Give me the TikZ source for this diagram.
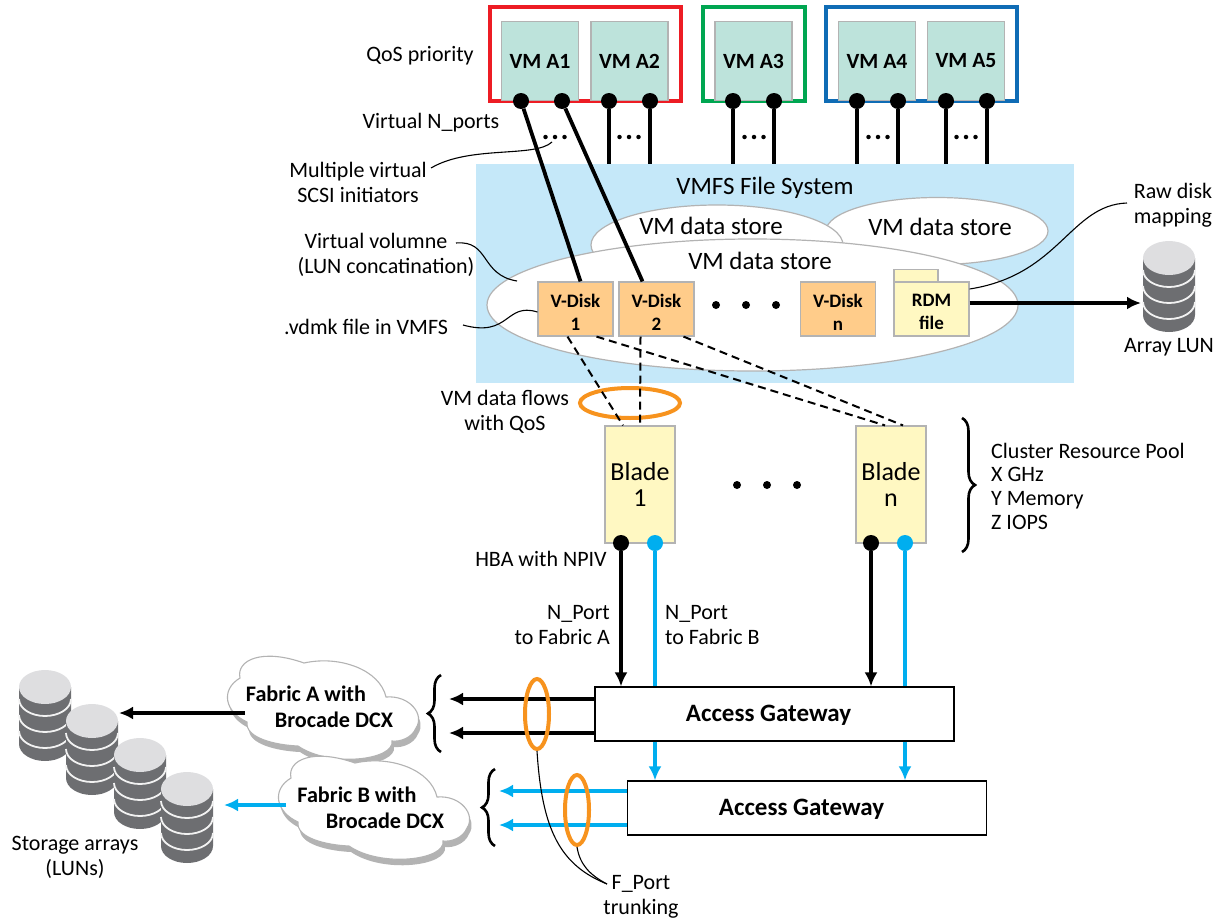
\documentclass[tikz,border=0pt]{standalone}
\usepackage{fontspec}
\setmainfont{Carlito}
\usetikzlibrary{arrows.meta,shapes.geometric,decorations.pathreplacing}
\definecolor{panelblue}{HTML}{C5E8F9}
\definecolor{vmgreen}{HTML}{BDE3DB}
\definecolor{diskorange}{HTML}{FFCC8A}
\definecolor{paleyellow}{HTML}{FFF8C2}
\definecolor{fcblue}{HTML}{00AEEF}
\definecolor{trunkorange}{HTML}{F7931E}
\definecolor{edgegray}{HTML}{B3B3B3}
\definecolor{diskdark}{HTML}{6D6E71}
\definecolor{disklight}{HTML}{DEDEE0}
\definecolor{framered}{HTML}{ED1C24}
\definecolor{framegreen}{HTML}{00A651}
\definecolor{frameblue}{HTML}{0F6CB5}
\newcommand{\vdiskstrut}{\rule{0pt}{19pt}}
\newcommand{\cloudpath}{(240,678) .. controls (236,660) and (262,648) .. (304,663)
  .. controls (340,655) and (380,670) .. (386,697)
  .. controls (410,695) and (425,715) .. (416,728)
  .. controls (412,738) and (400,742) .. (392,741)
  .. controls (395,760) and (330,768) .. (298,746)
  .. controls (275,745) and (245,738) .. (247,722)
  .. controls (225,712) and (220,690) .. (240,678) -- cycle}
\tikzset{diskstack/.pic={
    \fill[diskdark] (-26,0) -- (-26,57) arc[start angle=180, end angle=360, x radius=26pt, y radius=17pt] -- (26,0) -- cycle;
    \draw[white!90!gray, line width=1.8] (-26,12) arc[start angle=180, end angle=360, x radius=26pt, y radius=17pt];
    \draw[white!90!gray, line width=1.8] (-26,28) arc[start angle=180, end angle=360, x radius=26pt, y radius=17pt];
    \draw[white!90!gray, line width=1.8] (-26,44) arc[start angle=180, end angle=360, x radius=26pt, y radius=17pt];
    \fill[disklight] (0,0) ellipse[x radius=26pt, y radius=17pt];
  }}
\begin{document}
\begin{tikzpicture}[x=1pt, y=-1pt, >={Latex[length=14pt,width=13pt]},
    every node/.style = {font=\fontsize{22}{25}\selectfont, align=center, inner sep=0},
    frame/.style = {rectangle, draw, line width=4, minimum width=191, minimum height=94},
    vm/.style = {rectangle, draw=edgegray, line width=1.2, fill=vmgreen, minimum width=77, minimum height=79, font=\fontsize{21.7}{25}\selectfont\bfseries},
    vdisk/.style = {rectangle, draw=edgegray, line width=1.2, fill=diskorange, minimum width=75, minimum height=54, font=\fontsize{19}{23}\selectfont\bfseries},
    blade/.style = {rectangle, draw=edgegray, line width=1.2, fill=paleyellow, minimum width=70, minimum height=117, font=\fontsize{26}{26}\selectfont},
    gateway/.style = {rectangle, draw, line width=1.2, fill=white, minimum width=359, minimum height=54},
    gatetext/.style = {font=\fontsize{25}{25}\selectfont\bfseries},
    store/.style = {ellipse, draw=edgegray, line width=1.2, fill=white},
    storetext/.style = {font=\fontsize{25}{25}\selectfont},
    port/.style = {circle, fill=black, minimum size=16},
    fcport/.style = {circle, fill=fcblue, minimum size=16},
    smalldot/.style = {circle, fill=black, minimum size=4.5},
    bigdot/.style = {circle, fill=black, minimum size=8},
    trunk/.style = {ellipse, draw=trunkorange, line width=4},
    link/.style = {line width=3.8},
    leader/.style = {line width=1.1},
    flow/.style = {line width=2, dashed, dash pattern=on 8pt off 5pt},
    fabric/.style = {font=\fontsize{22.2}{25}\selectfont\bfseries},
    cuddle/.style = {line width=2.6, decorate, decoration={brace, amplitude=13pt}}]
    \useasboundingbox (0,0) rectangle (1220,921);

    \node[frame, draw=framered]   (redframe)   at (585.5,54) {};
    \node[frame, draw=framegreen, minimum width=102] (greenframe) at (754,54) {};
    \node[frame, draw=frameblue]  (blueframe)  at (921.5,54) {};

    \node[rectangle, fill=panelblue, minimum width=598, minimum height=219] (panel) at (775,273.5) {};
    \node[store, minimum width=222, minimum height=67]  (storeC) at (937,231) {};
    \node[store, minimum width=252, minimum height=80]  (storeB) at (717,245) {};
    \node[store, minimum width=531, minimum height=132] (storeA) at (752.5,305) {};

    \node[storetext] (fstitle) at (765,188) {VMFS File System};
    \node[storetext] (titleB)  at (711,226) {VM data store};
    \node[storetext] (titleC)  at (940,227) {VM data store};
    \node[storetext] (titleA)  at (760,261) {VM data store};

    \node[vm] (vma1) at (540,61)   {VM A1};
    \node[vm] (vma2) at (629.5,61) {VM A2};
    \node[vm] (vma3) at (753.5,61) {VM A3};
    \node[vm] (vma4) at (877,61)   {VM A4};
    \node[vm] (vma5) at (966,61)   {VM A5};

    \node[vdisk] (vd1) at (575.5,309) {\vdiskstrut V-Disk\\1};
    \node[vdisk] (vd2) at (656.5,309) {\vdiskstrut V-Disk\\2};
    \node[vdisk] (vdn) at (838,309)   {\vdiskstrut V-Disk\\n};

    \node[rectangle, draw=edgegray, line width=1.2, fill=paleyellow, minimum width=44, minimum height=13] (rdmtab) at (916,276) {};
    \node[vdisk, fill=paleyellow] (rdm) at (931.5,309) {\vdiskstrut RDM\\file};

    \node[port] (pa1) at (521,101) {};
    \node[port] (pa2) at (562,101) {};
    \node[port] (pa3) at (609,101) {};
    \node[port] (pa4) at (650,101) {};
    \node[port] (pa5) at (733,101) {};
    \node[port] (pa6) at (774,101) {};
    \node[port] (pa7) at (857,101) {};
    \node[port] (pa8) at (898,101) {};
    \node[port] (pa9) at (946,101) {};
    \node[port] (pa10) at (987,101) {};

    \draw[link] (pa1) -- ([xshift=5pt]vd1.north);
    \draw[link] (pa2) -- ([xshift=-14pt]vd2.north);
    \draw[link] (pa3) -- (pa3 |- panel.north);
    \draw[link] (pa4) -- (pa4 |- panel.north);
    \draw[link] (pa5) -- (pa5 |- panel.north);
    \draw[link] (pa6) -- (pa6 |- panel.north);
    \draw[link] (pa7) -- (pa7 |- panel.north);
    \draw[link] (pa8) -- (pa8 |- panel.north);
    \draw[link] (pa9) -- (pa9 |- panel.north);
    \draw[link] (pa10) -- (pa10 |- panel.north);

    \foreach \cx in {555,629,754,878,966} {
      \node[smalldot] at (\cx-9.5,137) {};
      \node[smalldot] at (\cx,137) {};
      \node[smalldot] at (\cx+9.5,137) {};
    }
    \node[bigdot] (dotA1) at (716,305) {};
    \node[bigdot] (dotA2) at (746,305) {};
    \node[bigdot] (dotA3) at (776,305) {};
    \node[bigdot] (dotB1) at (737,485) {};
    \node[bigdot] (dotB2) at (767,485) {};
    \node[bigdot] (dotB3) at (797,485) {};

    \node[blade] (blade1) at (640,484.5) {Blade\\1};
    \node[blade] (bladen) at (891,484.5) {Blade\\n};

    \node[trunk, minimum width=100, minimum height=30] (flows) at (630,403) {};

    \draw[flow] ([xshift=-8pt]vd1.south)  -- ([xshift=-17pt]blade1.north);
    \draw[flow] ([xshift=-16pt]vd2.south) -- (blade1.north);
    \draw[flow] ([xshift=21pt]vd1.south)  -- ([xshift=-6pt]bladen.north);
    \draw[flow] ([xshift=27pt]vd2.south)  -- ([xshift=12pt]bladen.north);

    \node[gateway] (gateA) at (774.5,714) {};
    \node[gateway] (gateB) at (807,808)   {};
    \node[gatetext] (gatelabelA) at (768.5,715.5) {Access Gateway};
    \node[gatetext] (gatelabelB) at (801.5,809.5) {Access Gateway};

    \node[port]   (hba1a) at (621,543) {};
    \node[fcport] (hba1b) at (655,543) {};
    \node[port]   (hbana) at (871,543) {};
    \node[fcport] (hbanb) at (905,543) {};

    \draw[link, ->] (hba1a) -- (hba1a |- gateA.north);
    \draw[link, fcblue] (hba1b) -- (hba1b |- gateA.north);
    \draw[link, ->] (hbana) -- (hbana |- gateA.north);
    \draw[link, fcblue] (hbanb) -- (hbanb |- gateA.north);
    \draw[link, fcblue, ->] (hba1b |- gateA.south) -- (hba1b |- gateB.north);
    \draw[link, fcblue, ->] (hbanb |- gateA.south) -- (hbanb |- gateB.north);

    \coordinate (outA1) at (449,699);
    \coordinate (outA2) at (449,733);
    \coordinate (outB1) at (499,791);
    \coordinate (outB2) at (499,825);
    \draw[link, ->] (outA1 -| gateA.west) -- (outA1);
    \draw[link, ->] (outA2 -| gateA.west) -- (outA2);
    \draw[link, fcblue, ->] (outB1 -| gateB.west) -- (outB1);
    \draw[link, fcblue, ->] (outB2 -| gateB.west) -- (outB2);

    \node[trunk, minimum width=24, minimum height=70] (trunkA) at (537,714) {};
    \node[trunk, minimum width=24, minimum height=70] (trunkB) at (577,810) {};

    \coordinate (lunin) at (1141,303);
    \draw[link, line width=4, ->] (rdm.east |- lunin) -- (lunin);

    % storage
    \pic at (1169,258) {diskstack};
    \pic at (45,687)   {diskstack};
    \pic at (92,721)   {diskstack};
    \pic at (140,755)  {diskstack};
    \pic at (187,789)  {diskstack};

    % clouds
    \fill[edgegray, shift={(2,6)}] \cloudpath;
    \draw[edgegray, line width=1.1, fill=white] \cloudpath;
    \fill[edgegray, shift={(53,106)}] \cloudpath;
    \draw[edgegray, line width=1.1, fill=white, shift={(51,100)}] \cloudpath;

    \node[fabric] (fabA1) at (306,694) {Fabric A with};
    \node[fabric] (fabA2) at (334,720) {Brocade DCX};
    \node[fabric] (fabB1) at (357,795) {Fabric B with};
    \node[fabric] (fabB2) at (385,821) {Brocade DCX};

    \coordinate (fabAout) at (245,713);
    \coordinate (lunAin)  at (119,713);
    \coordinate (fabBout) at (286,805);
    \coordinate (lunBin)  at (224,805);
    \draw[link, ->] (fabAout) -- (lunAin);
    \draw[link, fcblue, ->] (fabBout) -- (lunBin);

    % braces
    \coordinate (poolT) at (962,418);
    \coordinate (poolB) at (962,552);
    \coordinate (trunkAT) at (441,675);
    \coordinate (trunkAB) at (441,752);
    \coordinate (trunkBT) at (495,769);
    \coordinate (trunkBB) at (495,846);
    \draw[cuddle] (poolT) -- (poolB);
    \draw[cuddle] (trunkAB) -- (trunkAT);
    \draw[cuddle] (trunkBB) -- (trunkBT);

    % labels
    \node (qos)     at (420,56)  {QoS priority};
    \node (nports)  at (431,123) {Virtual N\_ports};
    \node (scsi)    at (358,182) {Multiple virtual\\SCSI initiators};
    \node (volume)  at (386,255) {\hspace*{-20pt}Virtual volumne\\(LUN concatination)};
    \node (vmdk)    at (366,327) {.vdmk file in VMFS};
    \node (vmflows) at (505,412) {VM data flows\\with QoS};
    \node (hba)     at (541,559) {HBA with NPIV};
    \node[align=right, anchor=east] (portA) at (610,625) {N\_Port\\to Fabric A};
    \node[align=left, anchor=west]  (portB) at (665,625) {N\_Port\\to Fabric B};
    \node[align=left, anchor=west, font=\fontsize{22}{23.7}\selectfont] (pool) at (991,486) {Cluster Resource Pool\\X GHz\\Y Memory\\Z IOPS};
    \node (rawdisk) at (1173,205) {Raw disk\\mapping};
    \node (arraylun) at (1169,347) {Array LUN};
    \node (arrays)  at (75,857)  {Storage arrays\\(LUNs)};
    \node (fport)   at (641,897) {F\_Port\\trunking};

    % leaders
    \draw[leader] (431,168) .. controls (470,145) and (535,158) .. (552,142);
    \draw[leader] (456,243) .. controls (490,240) and (480,275) .. (517,281);
    \draw[leader] (463,325) .. controls (510,338) and (505,302) .. (vd1.west |- 0,312);
    \draw[leader] (rdm.east |- 0,289) .. controls (1060,275) and (1070,205) .. (1127,203);
    \draw[leader] (trunkA.south) .. controls (542,830) and (560,865) .. (607,884);
    \draw[leader] (trunkB.south) .. controls (580,865) and (590,875) .. (607,884);
  \end{tikzpicture}
\end{document}
